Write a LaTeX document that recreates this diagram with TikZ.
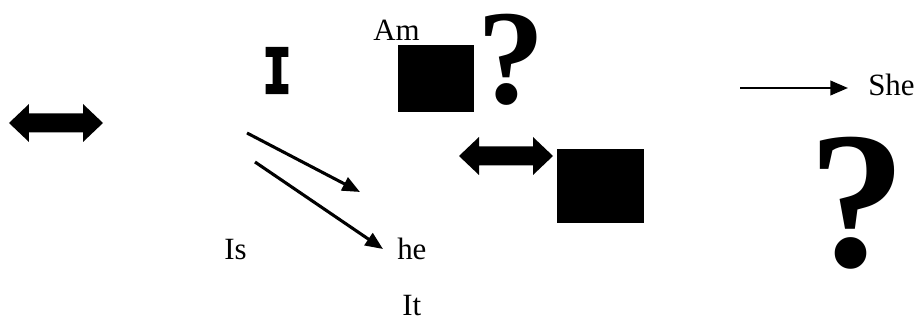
\documentclass[tikz,border=0pt]{standalone}
\usepackage{fontspec}
\setmainfont{Liberation Serif}
\newfontfamily\slabfont{DejaVu Sans Mono}[BoldFeatures={FakeBold=3.5}]
\usepackage{tikz}
\usetikzlibrary{positioning,arrows.meta,calc}
\tikzset{
  word-node/.style={font=\fontsize{22}{24}\selectfont, inner sep=0pt},
  block-node/.style={fill=black, inner sep=0pt, minimum width=#1},
  qmark-node/.style={font=\fontsize{#1}{#1}\selectfont\bfseries, inner sep=0pt, anchor=base},
  thin-arrow/.style={-{Triangle[length=4.4mm, width=3.6mm]}, line width=2.2pt, draw=black},
  dbl-arrow/.pic={
    \fill[black] (-1.175,0) -- (-0.675,0.475) -- (-0.675,0.2375) -- (0.675,0.2375)
      -- (0.675,0.475) -- (1.175,0) -- (0.675,-0.475) -- (0.675,-0.2375)
      -- (-0.675,-0.2375) -- (-0.675,-0.475) -- cycle;
  }
}
\begin{document}
\begin{tikzpicture}
\useasboundingbox (0,0) rectangle (23,-8);
% two-way arrows
\pic (swapleft) at (1.4,-3.075) {dbl-arrow};
\pic (swapmid) at (12.65,-3.9) {dbl-arrow};
% the letter I and the words
\node[font=\slabfont\bfseries\fontsize{44}{44}\selectfont, inner sep=0pt, anchor=base] (bigi) at (6.925,-2.325) {\scalebox{0.78}[1]{I}};
\node[word-node, anchor=base west] (am) at (9.325,-1.025) {Am};
\node[word-node, anchor=base west] (she) at (21.7,-2.4) {She};
\node[word-node, anchor=base west] (is) at (5.6,-6.5) {Is};
\node[word-node, anchor=base west] (he) at (9.925,-6.5) {he};
\node[word-node, anchor=base west] (it) at (10.05,-7.875) {It};
% black squares
\node[block-node=1.9cm, minimum height=1.675cm] (boxtop) at (10.9,-1.9625) {};
\node[block-node=2.175cm, minimum height=1.85cm] (boxmid) at (15.0125,-4.65) {};
% question marks
\node[qmark-node=96] (asktop) at (12.79,-2.6) {?};
\node[qmark-node=139] (askright) at (21.44,-6.675) {?};
% arrows
\coordinate (tailA) at (6.175,-3.325);
\coordinate (tipA) at (9.0,-4.8);
\coordinate (tailB) at (6.375,-4.05);
\coordinate (tipB) at (9.575,-6.225);
\coordinate (tailShe) at (18.5,-2.2);
\draw[thin-arrow] (tailA) -- (tipA);
\draw[thin-arrow] (tailB) -- (tipB);
\draw[thin-arrow, line width=1.8pt, shorten >=5mm] (tailShe) -- (tailShe -| she.west);
\end{tikzpicture}
\end{document}
